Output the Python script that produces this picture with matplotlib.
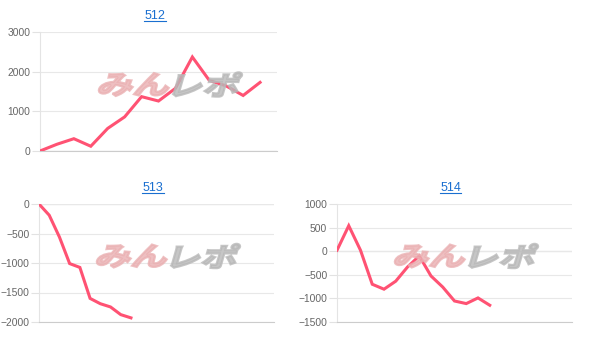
import matplotlib
matplotlib.use('Agg')
import matplotlib.pyplot as plt
from matplotlib.textpath import TextPath
from matplotlib.patches import PathPatch
from matplotlib.font_manager import FontProperties
from matplotlib.transforms import Affine2D
from matplotlib.lines import Line2D

# --- data ---
titles = ['512', '513', '514']

values_512 = [0, 170, 310, 120, 570, 860, 1370, 1260, 1580, 2370, 1780, 1640, 1400, 1730]
values_513 = [0, -190, -560, -1010, -1075, -1600, -1690, -1745, -1875, -1930]
values_514 = [20, 540, 20, -700, -805, -635, -335, -100, -525, -760, -1055, -1110, -990, -1145]

slots = [14, 23, 20]  # x-axis length in games
ylims = [(0, 3000), (-2000, 0), (-1500, 1000)]
yticks = [[0, 1000, 2000, 3000],
          [0, -500, -1000, -1500, -2000],
          [-1500, -1000, -500, 0, 500, 1000]]

W, H = 605, 348
LINE_COLOR = '#ff5273'
TITLE_COLOR = '#1a6fd0'

# axes boxes in pixels: left, top, right, bottom
boxes = [(40, 32, 277, 151), (39, 204, 274, 322), (337, 204, 572, 322)]

plt.rcParams['font.family'] = ['Liberation Sans', 'DejaVu Sans']

fig = plt.figure(figsize=(W / 100, H / 100), dpi=100)
fig.patch.set_facecolor('white')

pix = Affine2D().scale(1 / W, 1 / H) + fig.transFigure
wm_font = FontProperties(family='Noto Sans CJK JP', weight='bold')


def watermark(cx, cy):
    # "みんレポ" logo imitation: wide, heavy, slanted
    parts = [('みん', '#eab0b2'), ('レポ', '#b8b8b8')]
    sx, sy = 1.45, 1.05
    paths = [TextPath((0, 0), txt, size=25, prop=wm_font) for txt, _ in parts]
    widths = [p.get_extents().width * sx for p in paths]
    gap = 6
    x0 = cx - (sum(widths) + gap) / 2
    for (txt, col), tp, w in zip(parts, paths, widths):
        ext = tp.get_extents()
        tr = (Affine2D().translate(-ext.x0, -ext.y0).scale(sx, sy).skew_deg(16, 0)
              .translate(x0 - 3, H - cy - ext.height * sy / 2) + pix)
        patch = PathPatch(tp, transform=tr, facecolor=col, edgecolor=col,
                          linewidth=1.6, alpha=0.8, zorder=0.5)
        fig.add_artist(patch)
        x0 += w + gap


for i, vals in enumerate([values_512, values_513, values_514]):
    l, t, r, b = boxes[i]
    ax = fig.add_axes([l / W, (H - b) / H, (r - l) / W, (b - t) / H])
    ax.set_facecolor('none')
    ax.set_xlim(0, slots[i])
    ax.set_ylim(*ylims[i])
    ax.set_yticks(yticks[i])
    ax.set_xticks([])
    ax.tick_params(axis='y', length=6, width=0.8, color='#e2e2e2', pad=1,
                   labelsize=7.4, labelcolor='#666666')
    ax.grid(axis='y', color='#e8e8e8', linewidth=0.8)
    ax.axhline(0, color='#c4c4c4', linewidth=0.8, zorder=1)
    for s in ['top', 'right']:
        ax.spines[s].set_visible(False)
    ax.spines['left'].set_color('#e4e4e4')
    ax.spines['left'].set_linewidth(0.8)
    ax.spines['bottom'].set_color('#cccccc')
    ax.spines['bottom'].set_linewidth(0.8)
    ax.plot(range(len(vals)), vals, color=LINE_COLOR, linewidth=2.2,
            solid_joinstyle='miter', zorder=3)

    # title, blue and underlined like a link
    cx = (l + r) / 2 - 4
    fig.text(cx / W, (H - t + 13) / H, titles[i], ha='center', va='baseline',
             fontsize=9, color=TITLE_COLOR)
    fig.add_artist(Line2D([(cx - 11) / W, (cx + 11) / W],
                          [(H - t + 11) / H] * 2, color=TITLE_COLOR, linewidth=0.8))

    watermark((l + r) / 2 + 11, (t + b) / 2 - 7)

fig.savefig('out.png', dpi=100, facecolor='white')
